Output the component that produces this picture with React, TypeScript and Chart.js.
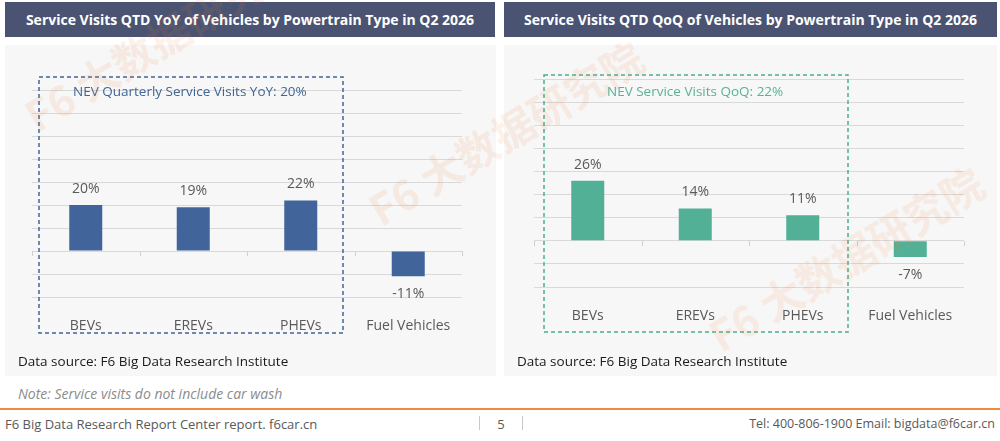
import React, { useEffect, useRef } from "react";
import { Chart, registerables } from "chart.js";

Chart.register(...registerables);

// ---------- data ----------
const categories = ["BEVs", "EREVs", "PHEVs", "Fuel Vehicles"];
const yoyValues = [20, 19, 22, -11];
const qoqValues = [26, 14, 11, -7];
const axisMin = -20;
const axisMax = 70;
const axisStep = 10;

const leftTitle = "Service Visits QTD YoY of Vehicles by Powertrain Type in Q2 2026";
const rightTitle = "Service Visits QTD QoQ of Vehicles by Powertrain Type in Q2 2026";
const leftBoxLabel = "NEV Quarterly Service Visits YoY: 20%";
const rightBoxLabel = "NEV Service Visits QoQ: 22%";
const sourceText = "Data source: F6 Big Data Research Institute";
const noteText = "Note: Service visits do not include car wash";
const footerLeft = "F6 Big Data Research Report Center report. f6car.cn";
const footerPage = "5";
const footerRight = "Tel: 400-806-1900 Email: bigdata@f6car.cn";
const watermarkText = "F6 大数据研究院";

const FONT = "'Open Sans', 'Noto Sans', 'Noto Sans CJK SC', sans-serif";

const valueLabelPlugin = {
  id: "valueLabels",
  afterDatasetsDraw(chart: any) {
    const ctx = chart.ctx;
    const meta = chart.getDatasetMeta(0);
    const data = chart.data.datasets[0].data as number[];
    ctx.save();
    ctx.font = `14px ${FONT}`;
    ctx.fillStyle = "#595959";
    ctx.textAlign = "center";
    ctx.textBaseline = "middle";
    meta.data.forEach((bar: any, i: number) => {
      const v = data[i];
      const p = bar.getProps(["x", "y"], true);
      if (v >= 0) ctx.fillText(`${v}%`, p.x, p.y - 16);
      else ctx.fillText(`${v}%`, p.x, p.y + 18);
    });
    ctx.restore();
  },
};

const zeroTicksPlugin = {
  id: "zeroTicks",
  beforeDatasetsDraw(chart: any) {
    const { ctx, chartArea, scales } = chart;
    const y0 = Math.round(scales.y.getPixelForValue(0));
    const n = chart.data.labels.length;
    const w = (chartArea.right - chartArea.left) / n;
    ctx.save();
    ctx.strokeStyle = "#d0d0d0";
    ctx.lineWidth = 1;
    for (let i = 0; i <= n; i++) {
      const x = Math.round(chartArea.left + i * w) + 0.5;
      ctx.beginPath();
      ctx.moveTo(x, y0);
      ctx.lineTo(x, y0 + 5);
      ctx.stroke();
    }
    ctx.restore();
  },
};

type BarProps = {
  values: number[];
  color: string;
  left: number;
  top: number;
  width: number;
  height: number;
  padLeft: number;
  padRight: number;
  padTop: number;
  axisHeight: number;
};

function BarChart(props: BarProps) {
  const ref = useRef<HTMLCanvasElement | null>(null);
  useEffect(() => {
    if (!ref.current) return;
    const chart = new Chart(ref.current, {
      type: "bar",
      data: {
        labels: categories,
        datasets: [
          {
            data: props.values,
            backgroundColor: props.color,
            barPercentage: 0.307,
            categoryPercentage: 1,
          },
        ],
      },
      options: {
        animation: false,
        responsive: false,
        layout: {
          padding: { left: props.padLeft, right: props.padRight, top: props.padTop, bottom: 0 },
        },
        plugins: { legend: { display: false }, tooltip: { enabled: false } },
        scales: {
          x: {
            grid: { display: false },
            border: { display: false },
            ticks: {
              padding: 13,
              color: "#595959",
              maxRotation: 0,
              autoSkip: false,
              font: { family: FONT, size: 14 },
            },
            afterFit: (s: any) => {
              s.height = props.axisHeight;
            },
          },
          y: {
            min: axisMin,
            max: axisMax,
            ticks: { stepSize: axisStep, display: false },
            grid: { color: "#d9d9d9", drawTicks: false },
            border: { display: false },
            afterFit: (s: any) => {
              s.width = 0;
            },
          },
        },
      } as any,
      plugins: [valueLabelPlugin, zeroTicksPlugin],
    });
    return () => chart.destroy();
  }, []);
  return (
    <canvas
      ref={ref}
      width={props.width}
      height={props.height}
      style={{
        position: "absolute",
        left: props.left,
        top: props.top,
        width: props.width,
        height: props.height,
      }}
    />
  );
}

function DashedBox(p: { x: number; y: number; w: number; h: number; color: string }) {
  return (
    <svg
      style={{ position: "absolute", left: p.x - 2, top: p.y - 2, overflow: "visible" }}
      width={p.w + 4}
      height={p.h + 4}
    >
      <rect x={2} y={2} width={p.w} height={p.h} fill="none" stroke={p.color} strokeWidth={1.5} strokeDasharray="4 3" />
    </svg>
  );
}

const abs = (o: any): React.CSSProperties => ({ position: "absolute", whiteSpace: "nowrap", ...o });

export default function App() {
  return (
    <div
      style={{
        position: "absolute",
        left: 0,
        top: 0,
        width: 1000,
        height: 441,
        background: "#ffffff",
        overflow: "hidden",
        fontFamily: FONT,
      }}
    >
      {/* headers */}
      <div style={abs({ left: 5, top: 2, width: 490, height: 35, background: "#4a5472" })} />
      <div style={abs({ left: 504, top: 2, width: 493, height: 35, background: "#4a5472" })} />
      <div style={abs({ left: 5, top: 2, width: 490, height: 35, lineHeight: "35px", textAlign: "center", color: "#fff", fontWeight: 700, fontSize: 14 })}>
        {leftTitle}
      </div>
      <div style={abs({ left: 504, top: 2, width: 493, height: 35, lineHeight: "35px", textAlign: "center", color: "#fff", fontWeight: 700, fontSize: 14 })}>
        {rightTitle}
      </div>

      {/* panels */}
      <div style={abs({ left: 5, top: 45, width: 491, height: 331, background: "#f7f7f7" })} />
      <div style={abs({ left: 504, top: 45, width: 493, height: 331, background: "#f7f7f7" })} />

      <BarChart values={yoyValues} color="#41659b" left={5} top={45} width={490} height={331} padLeft={27} padRight={33} padTop={45} axisHeight={79} />
      <BarChart values={qoqValues} color="#52b096" left={504} top={45} width={493} height={331} padLeft={30} padRight={33} padTop={34} axisHeight={89} />

      <DashedBox x={39} y={77} w={304} h={256} color="#41659b" />
      <DashedBox x={544} y={75} w={304} h={257} color="#4aaf8f" />

      <div style={abs({ left: 73, top: 81, fontSize: 13.5, lineHeight: "20px", color: "#3f6599" })}>{leftBoxLabel}</div>
      <div style={abs({ left: 607, top: 81, fontSize: 13.5, lineHeight: "20px", color: "#55b396" })}>{rightBoxLabel}</div>

      <div style={abs({ left: 18, top: 351, fontSize: 13.5, lineHeight: "20px", color: "#1a1a1a" })}>{sourceText}</div>
      <div style={abs({ left: 517, top: 351, fontSize: 13.5, lineHeight: "20px", color: "#1a1a1a" })}>{sourceText}</div>

      <div style={abs({ left: 18, top: 385, fontSize: 14, lineHeight: "18px", color: "#8c8c8c", fontStyle: "italic" })}>{noteText}</div>

      <div style={abs({ left: 0, top: 408, width: 1000, height: 2, background: "#ef8a43" })} />

      <div style={abs({ left: 5, top: 415, fontSize: 13, lineHeight: "18px", color: "#595959" })}>{footerLeft}</div>
      <div style={abs({ left: 479, top: 416, width: 1, height: 14, background: "#c8c8c8" })} />
      <div style={abs({ left: 522, top: 416, width: 1, height: 14, background: "#c8c8c8" })} />
      <div style={abs({ left: 480, top: 415, width: 42, textAlign: "center", fontSize: 13, lineHeight: "18px", color: "#595959" })}>{footerPage}</div>
      <div style={abs({ right: 5, top: 415, fontSize: 12.5, lineHeight: "18px", color: "#595959" })}>{footerRight}</div>

      {/* watermarks */}
      {[
        [28, 118],
        [372, 212],
        [712, 338],
      ].map(([x, y], i) => (
        <div
          key={i}
          style={abs({
            left: x,
            top: y - 25,
            fontSize: 42,
            lineHeight: "50px",
            fontWeight: 700,
            fontFamily: "'Noto Sans CJK SC', sans-serif",
            color: "rgba(240,125,55,0.11)",
            transform: "rotate(-31deg)",
            transformOrigin: "0 50%",
            pointerEvents: "none",
          })}
        >
          {watermarkText}
        </div>
      ))}
    </div>
  );
}
